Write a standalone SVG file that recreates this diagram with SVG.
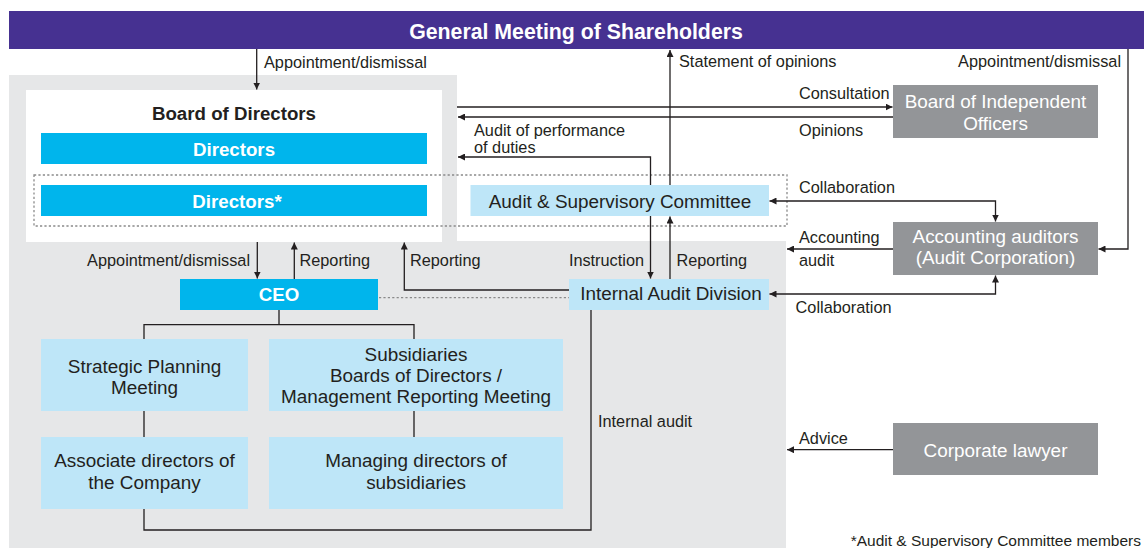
<svg xmlns="http://www.w3.org/2000/svg" width="1144" height="548" viewBox="0 0 1144 548">
<defs>
<marker id="ah" markerUnits="userSpaceOnUse" markerWidth="8" markerHeight="7" refX="7" refY="3.5" orient="auto-start-reverse">
<path d="M0,0 L7,3.5 L0,7 z" fill="#231f20"/>
</marker>
<style>
text{font-family:"Liberation Sans",Arial,Helvetica,sans-serif;fill:#231f20}
.lbl{font-size:16.3px}
.box{font-size:18.9px}
.bold{font-weight:bold;font-size:18.7px}
.w{fill:#ffffff}
.mid{text-anchor:middle}
.end{text-anchor:end}
.cyan{fill:#00b5ec}
.lb{fill:#bee6f8}
.gr{fill:#939598}
.ln{fill:none;stroke:#231f20;stroke-width:1.3}
.arr{marker-end:url(#ah)}
.arr2{marker-start:url(#ah);marker-end:url(#ah)}
.dot{fill:none;stroke:#8a8a8a;stroke-width:1.3;stroke-dasharray:2.2 2.2}
</style>
</defs>
<rect width="1144" height="548" fill="#ffffff"/>
<g id="background">
<path d="M9,75 H457 V241 H786 V548 H9 Z" fill="#e6e7e8"/>
</g>
<g id="gms">
<rect x="9" y="11" width="1135" height="38" fill="#463191"/>
<text class="w bold mid" x="576" y="39" style="font-size:21.3px">General Meeting of Shareholders</text>
</g>
<g id="board">
<rect x="26" y="90" width="416" height="152" fill="#ffffff"/>
<text class="bold mid" x="234" y="120">Board of Directors</text>
</g>
<g id="directors">
<rect class="cyan" x="41" y="133" width="386" height="31"/>
<text class="bold mid w" x="234" y="156">Directors</text>
</g>
<g id="asc-group">
<rect class="dot" x="34" y="175" width="753" height="51"/>
</g>
<g id="directors-asc">
<rect class="cyan" x="41" y="185" width="386" height="31"/>
<text class="bold mid w" x="237" y="207.5">Directors*</text>
</g>
<g id="asc">
<rect class="lb" x="470.5" y="185" width="298.5" height="31"/>
<text class="box mid" x="620" y="208.3">Audit &amp; Supervisory Committee</text>
</g>
<g id="bio">
<rect class="gr" x="893" y="85" width="205" height="53"/>
<text class="box mid w" x="995.5" y="108.3">Board of Independent</text>
<text class="box mid w" x="995.5" y="129.5">Officers</text>
</g>
<g id="aa">
<rect class="gr" x="893" y="222" width="205" height="53"/>
<text class="box mid w" x="995.5" y="243.3">Accounting auditors</text>
<text class="box mid w" x="995.5" y="263.5">(Audit Corporation)</text>
</g>
<g id="lawyer">
<rect class="gr" x="893" y="423" width="205" height="52"/>
<text class="box mid w" x="995.5" y="457">Corporate lawyer</text>
</g>
<g id="ceo">
<rect class="cyan" x="180" y="279" width="198" height="31"/>
<text class="bold mid w" x="279" y="301">CEO</text>
</g>
<g id="iad">
<rect class="lb" x="569" y="279" width="200" height="31"/>
<text class="box mid" x="671" y="300.3">Internal Audit Division</text>
</g>
<g id="spm">
<rect class="lb" x="41" y="339" width="207" height="72"/>
<text class="box mid" x="144.5" y="373.3">Strategic Planning</text>
<text class="box mid" x="144.5" y="394.3">Meeting</text>
</g>
<g id="subs">
<rect class="lb" x="269" y="339" width="294" height="72"/>
<text class="box mid" x="416" y="361">Subsidiaries</text>
<text class="box mid" x="416" y="382">Boards of Directors /</text>
<text class="box mid" x="416" y="403.3">Management Reporting Meeting</text>
</g>
<g id="assoc">
<rect class="lb" x="41" y="437" width="207" height="72"/>
<text class="box mid" x="144.5" y="467.3">Associate directors of</text>
<text class="box mid" x="144.5" y="488.5">the Company</text>
</g>
<g id="managing">
<rect class="lb" x="269" y="437" width="294" height="72"/>
<text class="box mid" x="416" y="467.3">Managing directors of</text>
<text class="box mid" x="416" y="488.5">subsidiaries</text>
</g>
<g id="connectors">
<path class="ln arr" d="M256.7,49 V89.5"/>
<path class="ln arr" d="M457,107 H892.5"/>
<path class="ln arr" d="M893,117 H458"/>
<path class="ln arr" d="M670,185 V50"/>
<path class="ln arr" d="M670,279 V216.5"/>
<path class="ln arr" d="M650.5,185 V157 H458"/>
<path class="ln arr" d="M650.5,216 V278.5"/>
<path class="ln arr" d="M1128,49 V249 H1098.5"/>
<path class="ln arr2" d="M995.5,221.5 V201 H769.5"/>
<path class="ln arr" d="M893,249 H787"/>
<path class="ln arr2" d="M769.5,294 H995.5 V275.5"/>
<path class="ln arr" d="M893,449.7 H787"/>
<path class="ln arr" d="M257.3,242 V278.5"/>
<path class="ln arr" d="M294.3,279 V242.5"/>
<path class="ln arr" d="M569,290 H404.3 V242.5"/>
<path class="dot" d="M379,297.7 H569"/>
<path class="ln" d="M279,310 V324.7 M144,339 V324.7 H414 V339 M144,411 V437 M414,411 V437"/>
<path class="ln" d="M144,509 V530 H591 V310"/>
</g>
<g id="labels">
<text class="lbl" x="264" y="68">Appointment/dismissal</text>
<text class="lbl" x="679" y="67">Statement of opinions</text>
<text class="lbl end" x="1121" y="67">Appointment/dismissal</text>
<text class="lbl" x="799" y="99">Consultation</text>
<text class="lbl" x="799" y="135.5">Opinions</text>
<text class="lbl" x="474" y="135.5">Audit of performance</text>
<text class="lbl" x="474" y="153.3">of duties</text>
<text class="lbl" x="799" y="193.3">Collaboration</text>
<text class="lbl" x="799" y="243.3">Accounting</text>
<text class="lbl" x="799" y="266">audit</text>
<text class="lbl end" x="250" y="266">Appointment/dismissal</text>
<text class="lbl" x="299.5" y="266">Reporting</text>
<text class="lbl" x="410" y="266">Reporting</text>
<text class="lbl end" x="644" y="266">Instruction</text>
<text class="lbl" x="676.5" y="266">Reporting</text>
<text class="lbl" x="795.6" y="312.5">Collaboration</text>
<text class="lbl" x="598" y="426.7">Internal audit</text>
<text class="lbl" x="799" y="444">Advice</text>
<text class="end" x="1141" y="546" style="font-size:15.5px">*Audit &amp; Supervisory Committee members</text>
</g>
</svg>
